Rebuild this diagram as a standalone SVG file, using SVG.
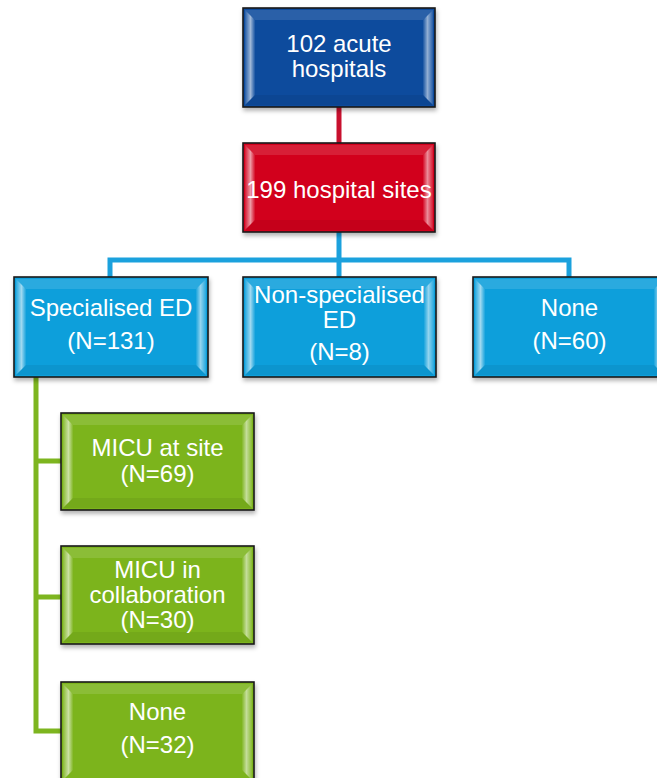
<svg xmlns="http://www.w3.org/2000/svg" width="657" height="778" viewBox="0 0 657 778">
<defs>
<style>
.t{font-family:"Liberation Sans",Arial,sans-serif;font-size:24px;fill:#fff;text-anchor:middle}
.frame{stroke:#1a1a1a;stroke-width:1.6}
.hl{fill:#fff;opacity:0.12}
.bv{fill:url(#bevL)}
.bvr{fill:url(#bevR)}
.dk{fill:#000;opacity:0.06}
</style>
<linearGradient id="bevL" x1="0" y1="0" x2="1" y2="0">
<stop offset="0" stop-color="#fff" stop-opacity="0.1"/>
<stop offset="0.55" stop-color="#fff" stop-opacity="0.6"/>
<stop offset="1" stop-color="#fff" stop-opacity="0.05"/>
</linearGradient>
<linearGradient id="bevR" x1="1" y1="0" x2="0" y2="0">
<stop offset="0" stop-color="#fff" stop-opacity="0.1"/>
<stop offset="0.55" stop-color="#fff" stop-opacity="0.55"/>
<stop offset="1" stop-color="#fff" stop-opacity="0.05"/>
</linearGradient>
<filter id="sh" x="-10%" y="-10%" width="125%" height="130%">
<feDropShadow dx="1" dy="3" stdDeviation="2" flood-color="#000" flood-opacity="0.3"/>
</filter>
</defs>

<g id="connectors" fill="none" stroke-width="5">
<line x1="339" y1="107" x2="339" y2="143" stroke="#C8102E"/>
<path d="M339 232 V277 M110 277 V260 H569 V277" stroke="#1BA1DD"/>
<path d="M36 377 V731 H61 M36 461 H61 M36 597 H61" stroke="#7DB51F"/>
</g>

<g id="n1">
<rect x="243" y="8" width="192" height="99" fill="#0F4B9D" class="frame" filter="url(#sh)"/>
<polygon points="245,10 433,10 423,20 255,20" class="hl"/>
<polygon points="245,10 255,20 255,95 245,105" class="bv"/>
<polygon points="433,10 423,20 423,95 433,105" class="bvr"/>
<polygon points="245,105 433,105 423,95 255,95" class="dk"/>
<text class="t" x="339" y="52">102 acute</text>
<text class="t" x="339" y="77">hospitals</text>
</g>

<g id="n2">
<rect x="243" y="143" width="192" height="89" fill="#D2001E" class="frame" filter="url(#sh)"/>
<polygon points="245,145 433,145 423,155 255,155" class="hl"/>
<polygon points="245,145 255,155 255,220 245,230" class="bv"/>
<polygon points="433,145 423,155 423,220 433,230" class="bvr"/>
<polygon points="245,230 433,230 423,220 255,220" class="dk"/>
<text class="t" x="339" y="198">199 hospital sites</text>
</g>

<g id="n3">
<rect x="14" y="277" width="194" height="100" fill="#0C9FDB" class="frame" filter="url(#sh)"/>
<polygon points="16,279 206,279 196,289 26,289" class="hl"/>
<polygon points="16,279 26,289 26,365 16,375" class="bv"/>
<polygon points="206,279 196,289 196,365 206,375" class="bvr"/>
<polygon points="16,375 206,375 196,365 26,365" class="dk"/>
<text class="t" x="111" y="316">Specialised ED</text>
<text class="t" x="111" y="349">(N=131)</text>
</g>

<g id="n4">
<rect x="243" y="277" width="193" height="100" fill="#0C9FDB" class="frame" filter="url(#sh)"/>
<polygon points="245,279 434,279 424,289 255,289" class="hl"/>
<polygon points="245,279 255,289 255,365 245,375" class="bv"/>
<polygon points="434,279 424,289 424,365 434,375" class="bvr"/>
<polygon points="245,375 434,375 424,365 255,365" class="dk"/>
<text class="t" x="339.5" y="303">Non-specialised</text>
<text class="t" x="339.5" y="328">ED</text>
<text class="t" x="339.5" y="360">(N=8)</text>
</g>

<g id="n5">
<rect x="473" y="277" width="193" height="100" fill="#0C9FDB" class="frame" filter="url(#sh)"/>
<polygon points="475,279 664,279 654,289 485,289" class="hl"/>
<polygon points="475,279 485,289 485,365 475,375" class="bv"/>
<polygon points="664,279 654,289 654,365 664,375" class="bvr"/>
<polygon points="475,375 664,375 654,365 485,365" class="dk"/>
<text class="t" x="569.5" y="316">None</text>
<text class="t" x="569.5" y="349">(N=60)</text>
</g>

<g id="n6">
<rect x="61" y="413" width="193" height="97" fill="#7CB41E" class="frame" filter="url(#sh)"/>
<polygon points="63,415 252,415 242,425 73,425" class="hl"/>
<polygon points="63,415 73,425 73,498 63,508" class="bv"/>
<polygon points="252,415 242,425 242,498 252,508" class="bvr"/>
<polygon points="63,508 252,508 242,498 73,498" class="dk"/>
<text class="t" x="157.5" y="456">MICU at site</text>
<text class="t" x="157.5" y="482">(N=69)</text>
</g>

<g id="n7">
<rect x="61" y="546" width="193" height="98" fill="#7CB41E" class="frame" filter="url(#sh)"/>
<polygon points="63,548 252,548 242,558 73,558" class="hl"/>
<polygon points="63,548 73,558 73,632 63,642" class="bv"/>
<polygon points="252,548 242,558 242,632 252,642" class="bvr"/>
<polygon points="63,642 252,642 242,632 73,632" class="dk"/>
<text class="t" x="157.5" y="578">MICU in</text>
<text class="t" x="157.5" y="603">collaboration</text>
<text class="t" x="157.5" y="628">(N=30)</text>
</g>

<g id="n8">
<rect x="61" y="682" width="193" height="98" fill="#7CB41E" class="frame" filter="url(#sh)"/>
<polygon points="63,684 252,684 242,694 73,694" class="hl"/>
<polygon points="63,684 73,694 73,770 63,780" class="bv"/>
<polygon points="252,684 242,694 242,770 252,780" class="bvr"/>
<text class="t" x="157.5" y="720">None</text>
<text class="t" x="157.5" y="753">(N=32)</text>
</g>
</svg>
